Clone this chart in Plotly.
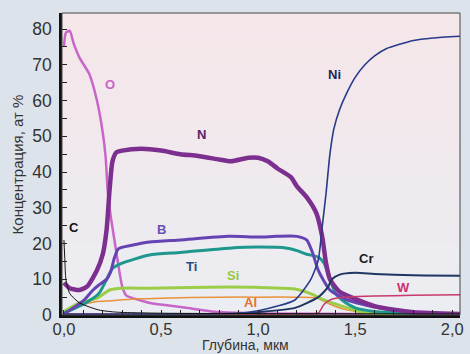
import plotly.graph_objects as go

# Depth (µm) and concentration (at. %)
O_x = [0.0, 0.01, 0.03, 0.05, 0.08, 0.13, 0.17, 0.2, 0.215, 0.225, 0.24, 0.26, 0.28, 0.3, 0.32, 0.4, 0.45, 0.55, 0.63, 0.76, 0.9, 1.0, 1.5, 2.04]
O_y = [75, 79, 79.5, 76, 72, 67.5, 60, 51, 44, 35, 28, 21, 14, 8, 5.5, 4, 3.3, 2.6, 2.0, 1.0, 0.6, 0.4, 0.3, 0.3]

N_x = [0.0, 0.03, 0.08, 0.12, 0.17, 0.2, 0.22, 0.235, 0.25, 0.27, 0.3, 0.4, 0.5, 0.6, 0.69, 0.8, 0.86, 0.95, 1.0, 1.05, 1.1, 1.17, 1.2, 1.25, 1.3, 1.33, 1.35, 1.37, 1.42, 1.5, 1.6, 1.7, 1.8, 2.04]
N_y = [9, 7.5, 7, 8, 12.5, 17, 24, 35, 43, 45.5, 46, 46.5, 46, 45, 44.5, 43.5, 43, 44, 44, 43, 41, 38.5, 36, 33, 28.5, 22, 14.5, 10, 6.5, 4.5, 2.5, 1.5, 0.8, 0.3]

B_x = [0.0, 0.05, 0.1, 0.15, 0.18, 0.22, 0.24, 0.26, 0.28, 0.35, 0.44, 0.6, 0.85, 1.0, 1.1, 1.2, 1.25, 1.28, 1.31, 1.37, 1.46, 1.62, 1.8, 2.04]
B_y = [0.3, 2, 4, 7, 8.4, 10, 12, 16, 18.5, 19.5, 20.4, 21, 22, 21.8, 22, 22, 21, 17.5, 12.5, 7, 4.2, 2, 0.8, 0.3]

Ti_x = [0.0, 0.1, 0.18, 0.22, 0.25, 0.3, 0.44, 0.6, 0.85, 1.0, 1.15, 1.2, 1.25, 1.31, 1.34, 1.37, 1.4, 1.45, 1.5, 1.6, 1.8, 2.04]
Ti_y = [0.5, 3, 6, 10, 13, 14.5, 16.8, 17.5, 18.7, 19, 18.7, 18, 17, 16.2, 14.5, 10, 6, 3.5, 2, 1, 0.5, 0.3]

Si_x = [0.0, 0.08, 0.17, 0.235, 0.3, 0.44, 0.85, 1.12, 1.19, 1.27, 1.34, 1.37, 1.46, 1.55, 1.65, 2.04]
Si_y = [1, 3.4, 4.7, 7, 7.5, 7.5, 7.8, 7.5, 7.3, 6, 4.2, 3.6, 2, 0.6, 0.3, 0.3]

Al_x = [0.0, 0.05, 0.1, 0.17, 0.25, 0.3, 0.5, 0.8, 1.0, 1.2, 1.3, 1.37, 1.45, 1.55, 1.7, 2.04]
Al_y = [0.3, 2, 3, 3.8, 4, 4.3, 4.7, 5, 5, 5, 4.8, 3, 1.5, 0.6, 0.3, 0.2]

Ni_x = [0.0, 0.9, 1.0, 1.1, 1.19, 1.27, 1.31, 1.33, 1.35, 1.37, 1.39, 1.42, 1.46, 1.5, 1.55, 1.6, 1.66, 1.8, 1.9, 2.04]
Ni_y = [0.2, 0.5, 1.2, 2.5, 4.2, 9.8, 15.4, 24.6, 34, 45, 52, 57.5, 62.5, 66.5, 70, 72.5, 74.5, 76.8, 77.5, 78]

Cr_x = [0.0, 0.9, 1.0, 1.19, 1.31, 1.36, 1.38, 1.42, 1.5, 1.6, 1.8, 2.04]
Cr_y = [0.2, 0.4, 0.8, 2, 5, 7.8, 10, 11.3, 11.8, 11.5, 11.1, 11]

W_x = [0.0, 1.28, 1.31, 1.34, 1.37, 1.4, 1.46, 1.6, 1.8, 2.04]
W_y = [0.2, 0.3, 0.5, 3.0, 4.2, 4.7, 5.0, 5.3, 5.5, 5.7]

C_x = [0.0, 0.005, 0.01, 0.03, 0.08, 0.18, 0.27, 0.5, 1.0, 2.04]
C_y = [21, 15, 10, 6, 3.4, 1.4, 0.8, 0.5, 0.4, 0.3]

x_tickvals = [0.0, 0.5, 1.0, 1.5, 2.0]
x_ticktext = ["0,0", "0,5", "1,0", "1,5", "2,0"]
y_tickvals = [0, 10, 20, 30, 40, 50, 60, 70, 80]

series = [
    ("O", O_x, O_y, "#c766c8", 2.5),
    ("Al", Al_x, Al_y, "#e8923a", 1.5),
    ("Si", Si_x, Si_y, "#9ccd48", 3),
    ("Ti", Ti_x, Ti_y, "#1e978e", 3),
    ("B", B_x, B_y, "#6543b3", 3),
    ("N", N_x, N_y, "#7d2f90", 4.5),
    ("Cr", Cr_x, Cr_y, "#1f3562", 2),
    ("W", W_x, W_y, "#c83a6c", 1.5),
    ("Ni", Ni_x, Ni_y, "#283a8a", 1.6),
    ("C", C_x, C_y, "#111111", 1),
]

labels = [
    ("O", 0.235, 64.5, "#c766c8"),
    ("N", 0.71, 50.5, "#5a2368"),
    ("Ni", 1.395, 67.3, "#1c2a5c"),
    ("C", 0.05, 24.5, "#111111"),
    ("B", 0.50, 24, "#6a50b4"),
    ("Ti", 0.655, 13.5, "#2a4f7e"),
    ("Si", 0.87, 11, "#98c840"),
    ("Al", 0.96, 3.6, "#e2702e"),
    ("Cr", 1.557, 15.8, "#1a1a24"),
    ("W", 1.75, 7.8, "#d03070"),
]

FONT = "Arial, Liberation Sans, sans-serif"
fig = go.Figure()

# vertical background gradient of the plot area (pink top -> grey-blue bottom)
top_rgb = (245, 230, 233)
bot_rgb = (235, 237, 242)
nb = 30
for i in range(nb):
    t = i / (nb - 1)
    c = tuple(round(top_rgb[k] + (bot_rgb[k] - top_rgb[k]) * t) for k in range(3))
    fig.add_shape(type="rect", xref="paper", yref="paper", x0=0, x1=1,
                  y0=1 - (i + 1) / nb, y1=1 - i / nb + 0.002, layer="below",
                  line=dict(width=0), fillcolor="rgb(%d,%d,%d)" % c)

for name, xs, ys, col, w in series:
    fig.add_trace(go.Scatter(x=xs, y=ys, mode="lines", name=name,
                             line=dict(color=col, width=w, shape="spline", smoothing=0.6),
                             showlegend=False, hoverinfo="skip"))

for txt, lx, ly, col in labels:
    fig.add_annotation(x=lx, y=ly, xref="x", yref="y", text="<b>%s</b>" % txt,
                       showarrow=False, font=dict(size=13, color=col, family=FONT))

fig.add_annotation(x=0.46, y=-0.1295, xref="paper", yref="paper", text="Глубина, мкм",
                   showarrow=False, yanchor="bottom", xanchor="center", borderpad=0,
                   font=dict(size=14, color="#333333", family=FONT))
fig.add_annotation(x=-0.112, y=0.5, xref="paper", yref="paper", text="Концентрация, ат %",
                   showarrow=False, textangle=-90, yanchor="middle", xanchor="center",
                   font=dict(size=15, color="#333333", family=FONT))

fig.update_layout(
    width=470, height=354,
    margin=dict(l=62, r=6, t=13, b=39),
    paper_bgcolor="#dde3ea",
    plot_bgcolor="#f0e9ec",
    font=dict(family=FONT, color="#333333"),
    xaxis=dict(range=[-0.01, 2.04], tickvals=x_tickvals, ticktext=x_ticktext,
               ticks="inside", ticklen=5, tickwidth=1, tickcolor="#222",
               minor=dict(dtick=0.1, ticks="inside", ticklen=5, tickcolor="#222"),
               showgrid=False, zeroline=False, showline=True, linecolor="#111", linewidth=2.5,
               tickfont=dict(size=16.5, color="#333"), ticklabelstandoff=-3),
    yaxis=dict(range=[0, 84.5], tickvals=y_tickvals,
               ticks="inside", ticklen=5, tickwidth=1, tickcolor="#222",
               minor=dict(dtick=5, ticks="inside", ticklen=5, tickcolor="#222"),
               showgrid=False, zeroline=False, showline=True, linecolor="#111", linewidth=2.5,
               tickfont=dict(size=17.5, color="#333"), ticklabelstandoff=4),
)

fig.add_shape(type="rect", xref="paper", yref="paper", x0=0, y0=0, x1=1, y1=1,
              line=dict(color="#444", width=1))

fig.write_html("out.html")
